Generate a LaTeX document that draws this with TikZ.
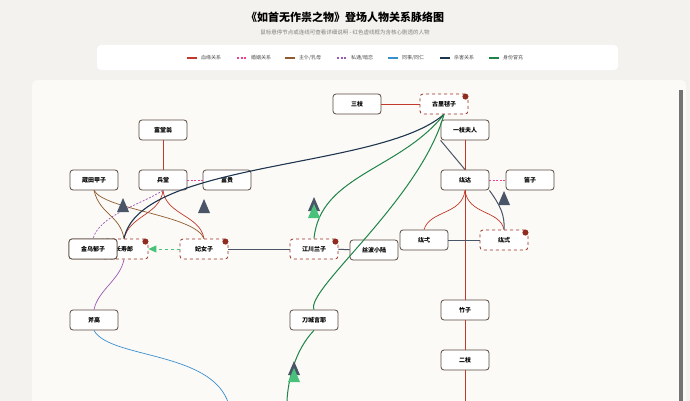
\documentclass[tikz,border=0pt]{standalone}
\usepackage{fontspec}
\setmainfont{Noto Sans CJK SC}
\usetikzlibrary{arrows.meta}
\definecolor{pagebg}{HTML}{F4F2EE}
\definecolor{panelbg}{HTML}{FCFAF6}
\definecolor{boxline}{HTML}{5A4A3E}
\definecolor{blood}{HTML}{C0392B}
\definecolor{marry}{HTML}{E84393}
\definecolor{servant}{HTML}{8E5A2E}
\definecolor{affair}{HTML}{9B59B6}
\definecolor{colleague}{HTML}{3A8FCF}
\definecolor{murder}{HTML}{1E3550}
\definecolor{slate}{HTML}{4A5568}
\definecolor{fake}{HTML}{1E8449}
\definecolor{fakelight}{HTML}{48C27A}
\tikzset{
  person/.style={draw=boxline, line width=0.8pt, fill=white, rounded corners=3pt,
    minimum width=48pt, minimum height=20pt, inner sep=1pt, font=\fontsize{6}{7}\selectfont\bfseries},
  core/.style={person, draw=blood!80!black, dashed},
  bloodline/.style={blood, line width=0.7pt},
  marryline/.style={marry, dashed, dash pattern=on 2pt off 1.5pt, line width=0.7pt},
  servantline/.style={servant, line width=0.7pt},
  affairline/.style={affair, dashed, dash pattern=on 2pt off 1.5pt, line width=0.7pt},
  colleagueline/.style={colleague, line width=0.7pt},
  murderline/.style={murder, line width=1.1pt},
  slateline/.style={slate, line width=1pt},
  fakeline/.style={fake, line width=1pt},
  legtext/.style={font=\fontsize{5}{6}\selectfont, text=black!70, anchor=west, inner sep=0pt}
}
\newcommand{\coredot}[1]{\fill[blood!75!black] (#1.north east) ++(-3pt,-3pt) circle (3pt);}
\newcommand{\downtri}[2]{\fill[#2] (#1) ++(-6pt,-6pt) -- ++(12pt,0) -- ++(-6pt,14pt) -- cycle;}
\begin{document}
\begin{tikzpicture}[x=1pt, y=-1pt]
\useasboundingbox (0,0) rectangle (690,401);
\fill[pagebg] (0,0) rectangle (690,401);

% Titel
\node (title) at (345,17) {\fontsize{11}{13}\selectfont\bfseries 《如首无作祟之物》登场人物关系脉络图};
\node (subtitle) at (345,32) {\fontsize{5.5}{6}\selectfont\color{black!50}鼠标悬停节点或连线可查看详细说明 - 红色虚线框为含核心剧透的人物};

% Legende
\fill[white, rounded corners=4pt] (97,45) rectangle (618,70);
\foreach \x/\sty/\txt in {187/bloodline/{血缘关系}, 237/marryline/{婚姻关系}, 285/servantline/{主仆/乳母},
                          337/affairline/{私通/暗恋}, 388/colleagueline/{同事/同仁}, 440/murderline/{杀害关系},
                          489/fakeline/{身份冒充}}
  {\draw[\sty, line width=1.2pt] (\x,58) -- ++(10,0);
   \node[legtext] at (\x+14,58) {\txt};}

% Panel
\fill[panelbg, rounded corners=5pt] (32,80) rectangle (686,420);
\fill[black!55] (679,90) rectangle (683,401);

% Personen
\node[person] (sanzhi) at (357,104) {三枝};
\node[core] (maqiu) at (444,104) {古里毬子};
\node[person] (yizhi) at (465,130) {一枝夫人};
\node[person] (futang) at (163,130) {富堂翁};
\node[person] (zangtian) at (94,180) {蔵田甲子};
\node[person] (bingtang) at (163,180) {兵堂};
\node[person] (fugui) at (227,180) {富贵};
\node[person] (hongda) at (465,180) {纮达};
\node[person] (dizi) at (530,180) {笛子};
\node[core] (changshou) at (124,249) {长寿郎};
\node[person] (jinwu) at (93,249) {金乌郁子};
\node[core] (feinv) at (204,249) {妃女子};
\node[core] (jiangchuan) at (314,249) {江川兰子};
\node[person] (sibo) at (374,250) {丝波小陆};
\node[person] (hongyi) at (424,240) {纮弌};
\node[core] (honger) at (504,240) {纮弍};
\node[person] (fugao) at (94,320) {斧高};
\node[person] (daocheng) at (314,320) {刀城言耶};
\node[person] (zhuzi) at (465,310) {竹子};
\node[person] (erzhi) at (465,360) {二枝};
\coordinate (endblood) at (465,401);
\coordinate (endfake) at (287,401);
\coordinate (endblue) at (230,410);

% Beziehungen
\begin{scope}
\draw[bloodline] (sanzhi) -- (maqiu);
\draw[bloodline] (futang) -- (bingtang);
\draw[bloodline] (yizhi) -- (hongda) -- (zhuzi) -- (erzhi) -- (endblood);
\draw[marryline] (bingtang) -- (fugui);
\draw[marryline] (hongda) -- (dizi);
\draw[bloodline] (bingtang.south) .. controls (160,215) and (130,215) .. (changshou.north);
\draw[bloodline] (bingtang.south) .. controls (166,215) and (200,215) .. (feinv.north);
\draw[bloodline] (hongda.south) .. controls (462,215) and (430,210) .. (hongyi.north);
\draw[bloodline] (hongda.south) .. controls (468,215) and (500,210) .. (honger.north);
\draw[servantline] (zangtian.south) .. controls (100,215) and (120,215) .. (changshou.north);
\draw[servantline] (zangtian.south) .. controls (105,210) and (195,215) .. (feinv.north);
\draw[affairline] (bingtang.south) .. controls (140,205) and (100,215) .. (jinwu.north);
\draw[affair, line width=0.7pt] (changshou.south) .. controls (120,280) and (98,290) .. (fugao.north);
\draw[colleagueline] (fugao.south) .. controls (110,360) and (220,350) .. (endblue);
\draw[murderline] (maqiu.south) .. controls (380,170) and (140,160) .. (changshou.north);
\draw[slateline] (yizhi.south west) -- (hongda.north);
\draw[slateline] (hongda.south east) .. controls (500,205) and (505,215) .. (honger.north);
\draw[slateline] (hongyi) -- (honger);
\draw[slateline] (feinv) -- (jiangchuan);
\draw[slateline] (jiangchuan) -- (sibo);
\draw[fakeline] (maqiu.south) .. controls (400,170) and (320,175) .. (jiangchuan.north);
\draw[fakeline] (maqiu.south) .. controls (420,200) and (305,290) .. (daocheng.north);
\draw[fakeline] (daocheng.south) .. controls (295,350) and (288,380) .. (endfake);
\draw[fakelight, dashed, line width=1pt, -{Triangle[length=8pt,width=7pt]}] (feinv) -- (changshou);
\end{scope}
\node[person] at (jinwu) {金乌郁子};

% Markierungen
\downtri{123,206}{slate}
\downtri{204,207}{slate}
\downtri{314,205}{slate}
\downtri{314,212}{fakelight}
\downtri{504,199}{slate}
\downtri{294,369}{slate}
\downtri{294,376}{fakelight}
\foreach \n in {maqiu, changshou, feinv, jiangchuan, honger}
  {\coredot{\n}}
\end{tikzpicture}
\end{document}
